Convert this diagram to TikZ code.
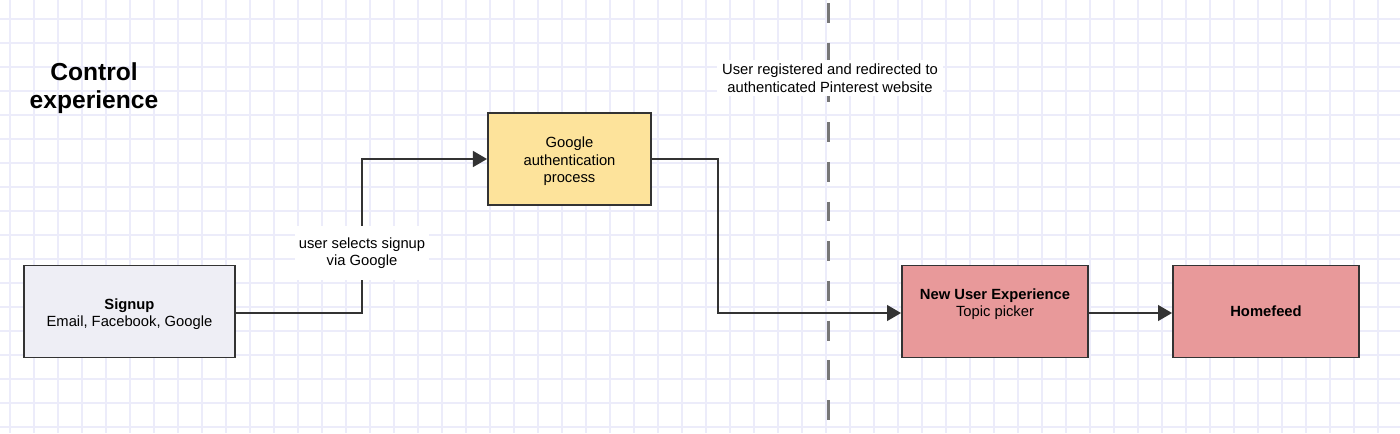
\documentclass[tikz,border=0pt]{standalone}
\usepackage{fontspec}
\setmainfont{Liberation Sans}
\usetikzlibrary{arrows.meta}
\definecolor{gridline}{HTML}{ECECFA}
\definecolor{boxline}{HTML}{333333}
\definecolor{signupfill}{HTML}{EEEEF5}
\definecolor{authfill}{HTML}{FDE39B}
\definecolor{nuxfill}{HTML}{E8999A}
\definecolor{splitline}{HTML}{777777}

\begin{document}
\begin{tikzpicture}[
	x=0.02cm, y=-0.02cm,
	block/.style={draw=boxline, line width=1.1pt, minimum height=1.84cm, align=center,
		inner sep=0pt, font=\fontsize{8.4}{10}\selectfont},
	note/.style={fill=white, align=center, inner sep=0pt, font=\fontsize{8.4}{10}\selectfont},
	flow/.style={draw=boxline, line width=1.1pt, -{Triangle[length=8pt,width=9pt]}}]
\useasboundingbox (0,0) rectangle (1400,433);
\fill[white] (0,0) rectangle (1400,433);
\foreach \gx in {10,34,...,1400}
	\draw[gridline, line width=0.85pt] (\gx,0) -- (\gx,433);
\foreach \gy in {19,43,...,433}
	\draw[gridline, line width=0.85pt] (0,\gy) -- (1400,\gy);
\draw[splitline, line width=1.7pt, dash pattern=on 11.3pt off 11.3pt] (828,3) -- (828,433);

\node[font=\fontsize{14}{15.9}\selectfont\bfseries, align=center] (title) at (94,88) {Control\\experience};

\node[block, fill=signupfill, minimum width=4.22cm] (signup) at (129.5,311.5)
	{\rule{0pt}{9pt}\textbf{Signup}\\Email, Facebook, Google};
\node[block, fill=authfill, minimum width=3.26cm] (gauth) at (569.5,159)
	{\rule{0pt}{9pt}Google\\authentication\\process};
\node[block, fill=nuxfill, minimum width=3.72cm] (nux) at (995,311.5) {};
\node[font=\fontsize{8.4}{10}\selectfont, align=center] (nuxtext) at (995,304)
	{\textbf{New User Experience}\\Topic picker};
\node[block, fill=nuxfill, minimum width=3.72cm] (home) at (1266,311.5) {\textbf{Homefeed}};

\coordinate (turnA) at (362,313);
\coordinate (turnB) at (718,159);
\draw[flow] (signup.east |- turnA) -- (turnA) |- (gauth.west);
\draw[flow] (gauth.east) -- (turnB) |- (nux.west |- turnA);
\draw[flow] (nux.east |- turnA) -- (home.west |- turnA);

\node[note, minimum width=2.7cm, minimum height=1.1cm] (choice) at (362,253)
	{user selects signup\\via Google};
\node[note, minimum width=4.52cm, minimum height=0.74cm] (registered) at (830,78)
	{User registered and redirected to\\authenticated Pinterest website};
\end{tikzpicture}
\end{document}
